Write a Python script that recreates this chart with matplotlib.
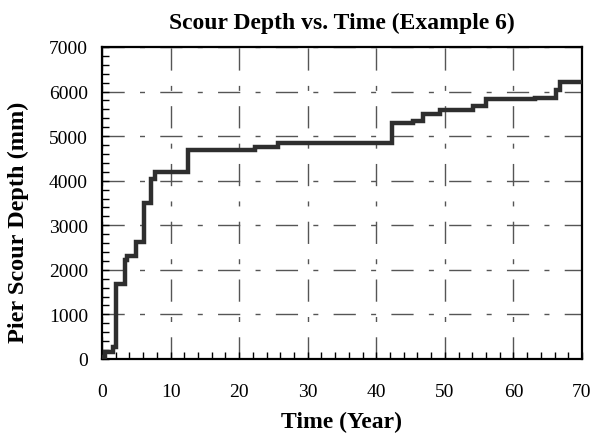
import matplotlib
matplotlib.use("Agg")
import matplotlib.pyplot as plt
from matplotlib.ticker import MultipleLocator

# step points (time in years, scour depth in mm)
time_yr = [0, 0.4, 1.6, 2.1, 3.3, 3.6, 4.9, 6.2, 7.2, 7.7, 12.6, 22.3, 25.6,
           42.3, 45.4, 46.8, 49.3, 54.1, 56.0, 63.1, 66.2, 66.8, 70]
depth_mm = [40, 150, 270, 1680, 2210, 2300, 2620, 3510, 4040, 4190, 4680, 4750,
            4850, 5300, 5350, 5500, 5590, 5670, 5830, 5860, 6040, 6220, 6220]

plt.rcParams['font.family'] = ['Liberation Serif', 'DejaVu Serif']

fig = plt.figure(figsize=(5.95, 4.39), dpi=100)
ax = fig.add_axes([0.1714, 0.18, 0.8067, 0.7107])

ax.plot(time_yr, depth_mm, drawstyle='steps-post', color='#2e2e2e', lw=3.2,
        solid_joinstyle='miter', zorder=3)

ax.set_xlim(0, 70)
ax.set_ylim(0, 7000)
ax.xaxis.set_major_locator(MultipleLocator(10))
ax.xaxis.set_minor_locator(MultipleLocator(2))
ax.yaxis.set_major_locator(MultipleLocator(1000))
ax.yaxis.set_minor_locator(MultipleLocator(200))
ax.tick_params(which='both', direction='in', length=5, width=1, color='black',
               labelsize=14)
ax.tick_params(axis='x', pad=17)
ax.tick_params(axis='y', pad=10)

ax.grid(True, which='major', color='#555555', lw=1,
        linestyle=(0, (16, 11, 3.6, 11)))
for s in ax.spines.values():
    s.set_linewidth(1.6)
    s.set_color('black')

ax.set_title('Scour Depth vs. Time (Example 6)', fontsize=17, fontweight='bold',
             pad=14)
ax.set_xlabel('Time (Year)', fontsize=17, fontweight='bold', labelpad=8)
ax.set_ylabel('Pier Scour Depth (mm)', fontsize=17.5, fontweight='bold')
ax.yaxis.set_label_coords(-0.152, 0.44)

fig.savefig('out.png', dpi=100)
